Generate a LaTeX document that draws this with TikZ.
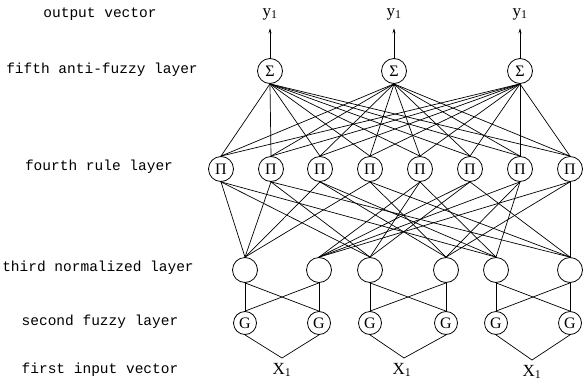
\documentclass[tikz,border=0pt]{standalone}
\usepackage{fontspec}
\setmainfont{Liberation Serif}
\setmonofont{Liberation Mono}
\usetikzlibrary{arrows.meta}
\begin{document}
\begin{tikzpicture}[x=1pt,y=-1pt,
  unit/.style={circle,draw,line width=0.8pt,minimum size=25pt,inner sep=0pt,font=\fontsize{16}{16}\selectfont},
  gunit/.style={unit,minimum size=23pt},
  lab/.style={font=\ttfamily\fontsize{14.5}{15}\selectfont},
  var/.style={font=\fontsize{17}{17}\selectfont},
  link/.style={line width=0.7pt}]
\useasboundingbox (0,0) rectangle (583,380);
% left labels
\node[lab] (l1) at (100,14) {output vector};
\node[lab] (l2) at (102,70) {fifth anti-fuzzy layer};
\node[lab] (l3) at (99,167) {fourth rule layer};
\node[lab] (l4) at (98,268) {third normalized layer};
\node[lab] (l5) at (100,322) {second fuzzy layer};
\node[lab] (l6) at (100,370) {first input vector};
% output layer
\foreach \i/\x in {1/270,2/394,3/520}{
  \node[unit] (s\i) at (\x,71) {Σ};
  \node[var] (y\i) at (\x,14) {y\textsubscript{1}};
  \draw[link,-{Stealth[length=5pt,width=3pt]},shorten >=5pt] (s\i) -- (y\i.south);
}
% rule layer
\foreach \i/\x in {1/221,2/271,3/320,4/370,5/420,6/470,7/520,8/570}{
  \node[unit] (p\i) at (\x,169) {Π};
}
% normalized and fuzzy layers
\foreach \i/\x in {1/245,2/319,3/370,4/446,5/496,6/570}{
  \node[unit] (n\i) at (\x,270) {};
  \node[gunit] (g\i) at (\x,323) {G};
}
% inputs
\node[var] (x1) at (282,370) {X\textsubscript{1}};
\node[var] (x2) at (402,370) {X\textsubscript{1}};
\node[var] (x3) at (532,372) {X\textsubscript{1}};
\coordinate (v1) at (282,358);
\coordinate (v2) at (404,358);
\coordinate (v3) at (532,360);
\draw[link] (g1.south) -- (v1) -- (g2.south);
\draw[link] (g3.south) -- (v2) -- (g4.south);
\draw[link] (g5.south) -- (v3) -- (g6.south);
% fuzzy -> normalized
\foreach \a/\b in {1/2,3/4,5/6}{
  \draw[link] (g\a.north) -- (n\a.south);
  \draw[link] (g\b.north) -- (n\b.south);
  \draw[link] (g\a.north) -- (n\b.south);
  \draw[link] (g\b.north) -- (n\a.south);
}
% normalized -> rule
\foreach \p/\a/\b/\c in {1/1/3/5,2/1/3/6,3/1/4/5,4/1/4/6,5/2/3/5,6/2/3/6,7/2/4/5,8/2/4/6}{
  \draw[link] (n\a.north) -- (p\p.south);
  \draw[link] (n\b.north) -- (p\p.south);
  \draw[link] (n\c.north) -- (p\p.south);
}
% rule -> output
\foreach \p in {1,...,8}{
  \foreach \s in {1,2,3}{
    \draw[link] (p\p.north) -- (s\s.south);
  }
}
\end{tikzpicture}
\end{document}
